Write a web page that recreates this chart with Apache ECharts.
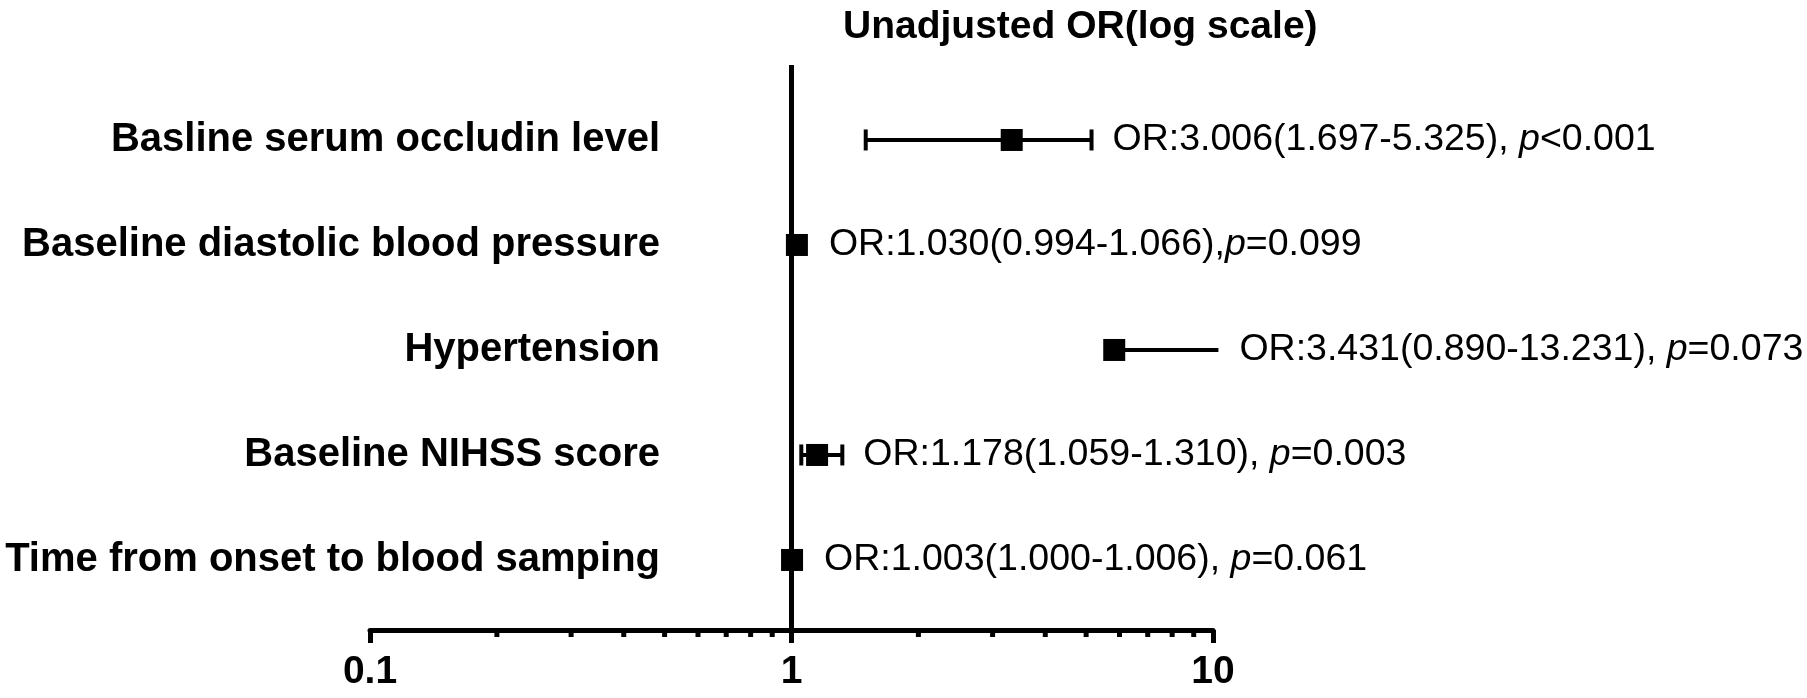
<!DOCTYPE html>
<html>
<head>
<meta charset="utf-8">
<title>Unadjusted OR (log scale)</title>
<script src="https://cdn.jsdelivr.net/npm/echarts@6/dist/echarts.min.js"></script>
<style>
  html, body { margin: 0; padding: 0; background: #fff; }
  #chart { width: 1807px; height: 698px; }
</style>
</head>
<body>
<div id="chart"></div>
<script type="text/javascript">

  // rows, top to bottom
  var categories = [
    'Basline serum occludin level',
    'Baseline diastolic blood pressure',
    'Hypertension',
    'Baseline NIHSS score',
    'Time from onset to blood samping'
  ];
  // values as drawn in the figure
  var orValues = [3.33, 1.03, 5.83, 1.15, 1.003];
  var ciLow    = [1.50, 0.994, 5.83, 1.055, 1.000];
  var ciHigh   = [5.15, 1.066, 10.3, 1.32, 1.006];
  // annotation texts
  var orText = [
    'OR:3.006(1.697-5.325), ',
    'OR:1.030(0.994-1.066),',
    'OR:3.431(0.890-13.231), ',
    'OR:1.178(1.059-1.310), ',
    'OR:1.003(1.000-1.006), '
  ];
  var pText = ['<0.001', '=0.099', '=0.073', '=0.003', '=0.061'];
  var minorTicks = [0.2, 0.3, 0.4, 0.5, 0.6, 0.7, 0.8, 0.9, 2, 3, 4, 5, 6, 7, 8, 9];

  var FONT = "'Liberation Sans', Arial, Helvetica, sans-serif";
  var SQUARE = 22;
  var X_MIN = 0.1, X_MAX = 10;

  var myChart = echarts.init(document.getElementById('chart'), null, { renderer: 'canvas' });

  var ciData = categories.map(function (c, i) {
    return [i, ciLow[i], ciHigh[i], orValues[i]];
  });

  option = {
    backgroundColor: '#fff',
    animation: false,
    title: {
      text: 'Unadjusted OR(log scale)',
      left: 838,
      top: 3,
      textStyle: { fontFamily: FONT, fontSize: 39, fontWeight: 'bold', color: '#000' }
    },
    grid: {
      left: 370,
      right: 594,
      top: 65,
      bottom: 68,
      containLabel: false,
      outerBoundsMode: 'none'
    },
    xAxis: {
      type: 'log',
      logBase: 10,
      min: X_MIN,
      max: X_MAX,
      axisLine: { show: true, onZero: false, lineStyle: { color: '#000', width: 5 } },
      axisTick: { show: true, length: 13, lineStyle: { color: '#000', width: 5 } },
      splitLine: { show: false },
      minorTick: { show: false },
      axisLabel: {
        margin: 23,
        color: '#000',
        fontFamily: FONT,
        fontSize: 39,
        fontWeight: 'bold',
        formatter: function (v) { return String(+v.toFixed(1)); }
      }
    },
    yAxis: {
      type: 'value',
      inverse: true,
      min: -0.714,
      max: categories.length - 1 + 0.667,
      axisLine: { show: false, onZero: false },
      axisTick: { show: false },
      splitLine: { show: false },
      axisLabel: {
        margin: -290,
        color: '#000',
        fontFamily: FONT,
        fontSize: 40,
        fontWeight: 'bold',
        showMinLabel: true,
        showMaxLabel: true,
        formatter: function (v) {
          return Number.isInteger(v) && categories[v] !== undefined ? categories[v] : '';
        }
      }
    },
    series: [
      {
        // minor ticks of the log axis
        name: 'minor',
        type: 'custom',
        silent: true,
        clip: false,
        z: 1,
        data: minorTicks.map(function (v) { return [v]; }),
        encode: { x: 0 },
        renderItem: function (params, api) {
          var x = api.coord([api.value(0), 0])[0];
          var y = params.coordSys.y + params.coordSys.height;
          return {
            type: 'line',
            shape: { x1: x, y1: y, x2: x, y2: y + 7 },
            style: { stroke: '#000', lineWidth: 5 }
          };
        }
      },
      {
        // confidence intervals + annotation text
        name: 'ci',
        type: 'custom',
        silent: true,
        clip: false,
        z: 2,
        data: ciData,
        encode: { x: [1, 2], y: 0 },
        renderItem: function (params, api) {
          var i = api.value(0);
          var lo = api.value(1), hi = api.value(2), or = api.value(3);
          var y = api.coord([1, i])[1];
          var xLo = api.coord([lo, i])[0];
          var xHi = api.coord([hi, i])[0];
          var xOr = api.coord([or, i])[0];
          var cap = 10.5;
          var children = [{
            type: 'line',
            shape: { x1: xLo, y1: y, x2: xHi, y2: y },
            style: { stroke: '#000', lineWidth: 4 }
          }];
          if (lo < or && lo >= X_MIN) {
            children.push({ type: 'line', shape: { x1: xLo, y1: y - cap, x2: xLo, y2: y + cap },
              style: { stroke: '#000', lineWidth: 4 } });
          }
          if (hi > or && hi <= X_MAX) {
            children.push({ type: 'line', shape: { x1: xHi, y1: y - cap, x2: xHi, y2: y + cap },
              style: { stroke: '#000', lineWidth: 4 } });
          }
          var xText = Math.max(xHi, xOr + SQUARE / 2) + 21;
          children.push({
            type: 'text',
            x: xText,
            y: y,
            style: {
              text: '{n|' + orText[i] + '}{i|p}{n|' + pText[i] + '}',
              align: 'left',
              verticalAlign: 'middle',
              fill: '#000',
              rich: {
                n: { fontFamily: FONT, fontSize: 37.5, color: '#000' },
                i: { fontFamily: FONT, fontSize: 37.5, fontStyle: 'italic', color: '#000' }
              }
            }
          });
          return { type: 'group', children: children };
        }
      },
      {
        name: 'OR',
        type: 'scatter',
        symbol: 'rect',
        symbolSize: SQUARE,
        z: 3,
        itemStyle: { color: '#000', opacity: 1 },
        data: orValues.map(function (v, i) { return [v, i]; }),
        markLine: {
          silent: true,
          symbol: 'none',
          label: { show: false },
          lineStyle: { color: '#000', width: 5, type: 'solid' },
          data: [{ xAxis: 1 }]
        }
      }
    ]
  };
  myChart.setOption(option);

</script>
</body>
</html>
